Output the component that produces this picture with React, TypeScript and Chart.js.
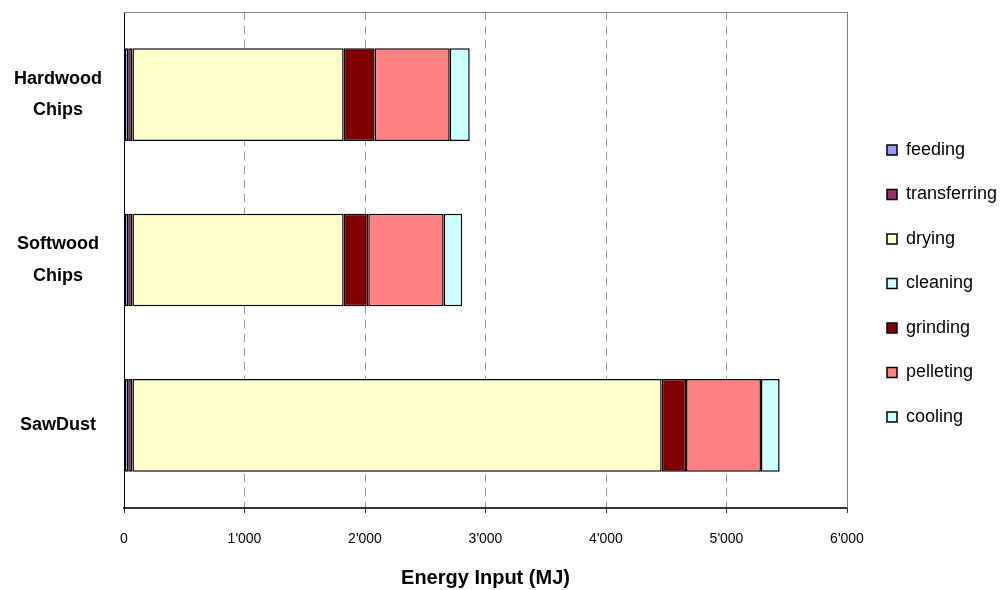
import React, { useEffect, useRef } from "react";
import { Chart, registerables } from "chart.js";

Chart.register(...registerables);

// ---- data ----
const categories: string[][] = [["Hardwood", "Chips"], ["Softwood", "Chips"], ["SawDust"]];
const seriesNames = ["feeding", "transferring", "drying", "cleaning", "grinding", "pelleting", "cooling"];
const feeding = [35, 35, 35];
const transferring = [35, 35, 35];
const drying = [1753, 1753, 4392];
const cleaning = [0, 0, 0];
const grinding = [257, 204, 202];
const pelleting = [623, 626, 622];
const cooling = [166, 154, 155];
const seriesColors = ["#9999FF", "#993366", "#FFFFCC", "#CCFFFF", "#800000", "#FF8080", "#CCFFFF"];
const xMin = 0;
const xMax = 6000;
const xStep = 1000;
const xTitle = "Energy Input (MJ)";

const seriesValues = [feeding, transferring, drying, cleaning, grinding, pelleting, cooling];

const fmt = (v: number) => {
  const s = Math.round(v).toString();
  return s.replace(/\B(?=(\d{3})+(?!\d))/g, "'");
};

const layoutPlugin = {
  id: "layoutTweaks",
  beforeLayout(chart: any) {
    const lg = chart.legend;
    if (lg && !lg._fixedWidth) {
      const orig = lg.fit;
      lg.fit = function (...args: any[]) {
        orig.apply(this, args);
        this.width = 157;
      };
      lg._fixedWidth = true;
    }
  },
  afterLayout(chart: any) {
    const lg = chart.legend;
    if (!lg || !lg.columnSizes || !lg.columnSizes.length) return;
    const pad = lg.options.labels.padding;
    const colH = lg.columnSizes[0].height;
    const y0 = (lg.top + pad + (lg.bottom - colH)) / 2;
    const dy = 141 - y0;
    lg.top += dy;
    lg.bottom += dy;
    const dx = 887 - (lg.left + pad);
    lg.left += dx;
    lg.right += dx;
  },
  beforeDatasetsDraw(chart: any) {
    const { ctx, chartArea } = chart;
    ctx.save();
    ctx.strokeStyle = "#808080";
    ctx.lineWidth = 1;
    ctx.beginPath();
    ctx.moveTo(chartArea.left, chartArea.top + 0.5);
    ctx.lineTo(chartArea.right + 0.5, chartArea.top + 0.5);
    ctx.lineTo(chartArea.right + 0.5, chartArea.bottom);
    ctx.stroke();
    ctx.restore();
  },
};

export default function App() {
  const ref = useRef<HTMLCanvasElement | null>(null);

  useEffect(() => {
    document.body.style.margin = "0";
    const canvas = ref.current;
    if (!canvas) return;
    const chart = new Chart(canvas, {
      type: "bar",
      data: {
        labels: categories,
        datasets: seriesNames.map((name, i) => ({
          label: name,
          data: seriesValues[i],
          backgroundColor: seriesColors[i],
          borderColor: "#000000",
          borderWidth: 1.5,
          borderSkipped: false,
          barPercentage: 1,
          categoryPercentage: 0.56,
        })),
      },
      options: {
        indexAxis: "y",
        responsive: false,
        animation: false,
        layout: { padding: { top: 12, right: 0, bottom: 0, left: 0 } },
        plugins: {
          legend: {
            position: "right",
            labels: {
              boxWidth: 10,
              boxHeight: 10,
              padding: 26.5,
              color: "#000000",
              font: { family: "Arial, 'Liberation Sans', sans-serif", size: 18, lineHeight: 1 },
            },
          },
          tooltip: { enabled: false },
          title: { display: false },
        },
        scales: {
          x: {
            type: "linear",
            stacked: true,
            min: xMin,
            max: xMax,
            ticks: {
              stepSize: xStep,
              color: "#000000",
              padding: 18,
              font: { family: "Arial, 'Liberation Sans', sans-serif", size: 14, lineHeight: 1.2 },
              callback: (v: any) => fmt(Number(v)),
            },
            grid: {
              color: "#999999",
              lineWidth: 1,
              drawTicks: true,
              tickLength: 5,
              tickColor: "#333333",
              tickWidth: 1,
            },
            border: { display: true, color: "#333333", width: 2, dash: [8, 6] },
            title: {
              display: true,
              text: xTitle,
              color: "#000000",
              font: { family: "Arial, 'Liberation Sans', sans-serif", size: 20, weight: "bold", lineHeight: 1.2 },
              padding: { top: 0, bottom: 0 },
            },
            afterFit: (scale: any) => {
              scale.height = 82;
              scale.paddingLeft = 0;
              scale.paddingRight = 0;
            },
          },
          y: {
            type: "category",
            stacked: true,
            grid: { display: false, drawTicks: false },
            border: { display: true, color: "#000000", width: 1 },
            ticks: {
              color: "#000000",
              padding: 22,
              crossAlign: "center",
              font: { family: "Arial, 'Liberation Sans', sans-serif", size: 18, weight: "bold", lineHeight: 1.75 },
            },
            afterFit: (scale: any) => {
              scale.width = 124;
              scale.paddingTop = 0;
              scale.paddingBottom = 0;
            },
          },
        },
      },
      plugins: [layoutPlugin],
    } as any);
    return () => chart.destroy();
  }, []);

  return (
    <div style={{ width: 1004, height: 590 }}>
      <canvas ref={ref} width={1004} height={590} style={{ display: "block" }} />
    </div>
  );
}
